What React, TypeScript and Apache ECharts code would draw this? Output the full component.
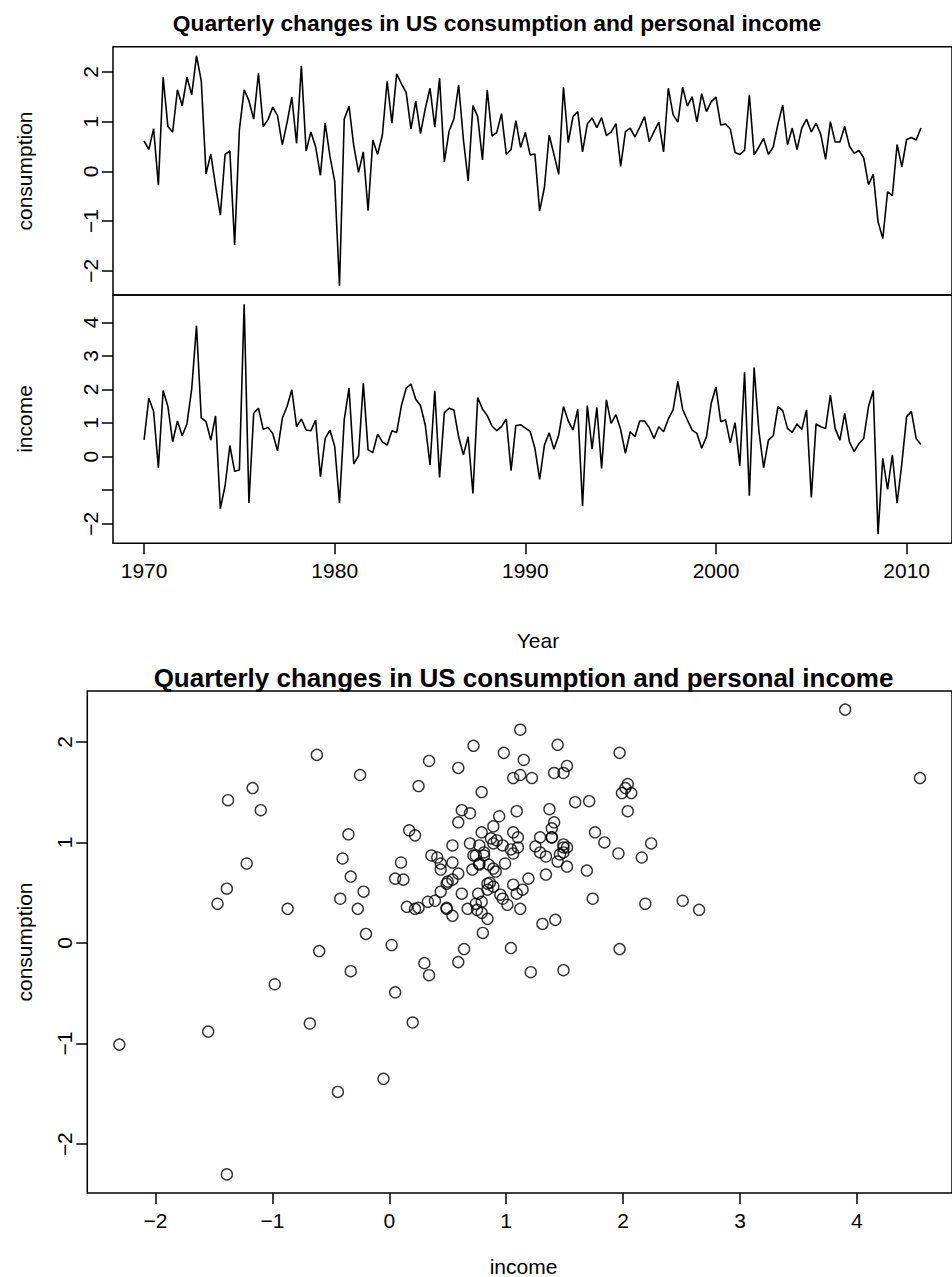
import React, { useEffect, useRef } from "react";
import * as echarts from "echarts";

// Quarterly % changes, 1970 Q1 – 2010 Q4
const startYear = 1970;
const perYear = 4;

const consumption = [
  0.61, 0.44, 0.86, -0.28, 1.89, 0.9, 0.79, 1.64, 1.32, 1.89, 1.54, 2.32, 1.82, -0.05, 0.35, -0.29, -0.88, 0.34, 0.41, -1.48,
  0.84, 1.64, 1.42, 1.05, 1.97, 0.9, 1.04, 1.29, 1.12, 0.53, 0.98, 1.49, 0.56, 2.12, 0.41, 0.79, 0.49, -0.08, 0.97, 0.3,
  -0.2, -2.3, 1.05, 1.31, 0.51, -0.02, 0.39, -0.79, 0.63, 0.34, 0.73, 1.81, 0.97, 1.96, 1.76, 1.58, 0.85, 1.41, 0.76, 1.26,
  1.67, 0.89, 1.87, 0.19, 0.81, 1.05, 1.74, 0.64, -0.19, 1.32, 1.1, 0.23, 1.64, 0.71, 0.78, 1.16, 0.34, 0.44, 1.02, 0.48,
  0.78, 0.33, 0.35, -0.8, -0.32, 0.73, 0.34, -0.06, 1.69, 0.58, 1.1, 1.2, 0.39, 0.95, 1.07, 0.88, 1.08, 0.72, 0.79, 0.96,
  0.1, 0.8, 0.87, 0.69, 0.89, 1.1, 0.6, 0.8, 0.99, 0.39, 1.67, 1.14, 0.99, 1.69, 1.31, 1.5, 0.99, 1.56, 1.2, 1.4,
  1.49, 0.93, 0.95, 0.85, 0.38, 0.34, 0.42, 1.54, 0.33, 0.49, 0.66, 0.34, 0.49, 0.95, 1.33, 0.53, 0.87, 0.44, 0.87, 1.05,
  0.79, 0.97, 0.74, 0.24, 1.0, 0.59, 0.59, 0.9, 0.51, 0.36, 0.42, 0.27, -0.27, -0.06, -1.01, -1.35, -0.41, -0.49, 0.54, 0.09,
  0.64, 0.68, 0.63, 0.87,
];

const income = [
  0.5, 1.74, 1.34, -0.33, 1.97, 1.49, 0.44, 1.06, 0.62, 0.98, 2.02, 3.9, 1.15, 1.04, 0.49, 1.21, -1.55, -0.87, 0.33, -0.44,
  -0.4, 4.54, -1.38, 1.29, 1.44, 0.81, 0.87, 0.69, 0.17, 1.14, 1.49, 1.99, 0.89, 1.12, 0.79, 0.77, 1.09, -0.6, 0.54, 0.79,
  0.3, -1.39, 1.1, 2.04, -0.22, 0.02, 2.19, 0.2, 0.12, 0.67, 0.44, 0.34, 0.77, 0.72, 1.52, 2.04, 2.16, 1.71, 1.52, 0.94,
  -0.25, 1.96, -0.62, 1.31, 1.44, 1.39, 0.59, 0.05, 0.59, -1.1, 1.76, 1.42, 1.22, 0.91, 0.77, 0.89, 1.12, -0.42, 0.92, 0.95,
  0.85, 0.75, 0.25, -0.68, 0.34, 0.71, 0.22, 0.64, 1.49, 1.06, 0.79, 1.41, -1.47, 1.52, 0.22, 1.46, -0.35, 1.69, 0.99, 1.25,
  0.8, 0.1, 0.74, 0.59, 1.06, 1.06, 0.86, 0.54, 0.89, 0.74, 1.12, 1.39, 2.24, 1.41, 1.09, 0.79, 0.69, 0.25, 0.59, 1.59,
  2.07, 1.04, 1.1, 0.41, 1.01, -0.27, 2.51, -1.17, 2.65, 0.76, -0.33, 0.49, 0.62, 1.49, 1.37, 0.84, 0.72, 0.97, 0.81, 1.39,
  -1.22, 0.97, 0.89, 0.84, 1.84, 0.84, 0.49, 1.29, 0.44, 0.15, 0.39, 0.54, 1.49, 1.97, -2.31, -0.05, -0.98, 0.05, -1.39, -0.2,
  1.19, 1.34, 0.54, 0.36,
];

const yearTicks = [1970, 1980, 1990, 2000, 2010];
const consTicks = [-2, -1, 0, 1, 2];
const incomeTicks = [-2, -1, 0, 1, 2, 3, 4];
const incomeTickLabels = [-2, 0, 1, 2, 3, 4];
const scatterXTicks = [-2, -1, 0, 1, 2, 3, 4];

const title = "Quarterly changes in US consumption and personal income";
const FONT = '"Liberation Sans", Arial, Helvetica, sans-serif';

const fmt = (v: number) => (v < 0 ? "\u2212" + Math.abs(v) : String(v));

export default function App() {
  const ref = useRef<HTMLDivElement>(null);

  useEffect(() => {
    if (!ref.current) return;
    const chart = echarts.init(ref.current, null, { renderer: "svg" });

    const years = consumption.map((_, i) => startYear + i / perYear);
    const consLine = consumption.map((v, i) => [years[i], v]);
    const incLine = income.map((v, i) => [years[i], v]);
    const pairs = income.map((v, i) => [v, consumption[i]]);

    const tickStyle = { color: "#000", width: 1.5 };
    const labelBase = { color: "#000", fontSize: 21, fontFamily: FONT };
    const hiddenLine = { show: false, onZero: false };
    const gridBase = {
      show: true,
      borderColor: "#000",
      borderWidth: 1.5,
      backgroundColor: "transparent",
      containLabel: false,
    };

    const option: any = {
      animation: false,
      backgroundColor: "#fff",
      textStyle: { fontFamily: FONT },
      grid: [
        { ...gridBase, left: 113, top: 46.7, width: 850, height: 248.3 },
        { ...gridBase, left: 113, top: 295, width: 850, height: 248.3 },
        { ...gridBase, left: 87.3, top: 691, width: 872.2, height: 502 },
      ],
      xAxis: [
        { gridIndex: 0, type: "value", min: 1968.37, max: 2012.38, show: false },
        {
          gridIndex: 1,
          type: "value",
          position: "bottom",
          min: 1968.37,
          max: 2012.38,
          axisLine: hiddenLine,
          splitLine: { show: false },
          axisTick: { show: true, length: 11, lineStyle: tickStyle, customValues: yearTicks },
          axisLabel: { ...labelBase, margin: 17, customValues: yearTicks, formatter: (v: number) => String(v) },
        },
        {
          gridIndex: 2,
          type: "value",
          position: "bottom",
          min: -2.584,
          max: 4.814,
          axisLine: hiddenLine,
          splitLine: { show: false },
          axisTick: { show: true, length: 11, lineStyle: tickStyle, customValues: scatterXTicks },
          axisLabel: { ...labelBase, margin: 17, customValues: scatterXTicks, formatter: fmt },
        },
      ],
      yAxis: [
        {
          gridIndex: 0,
          type: "value",
          position: "left",
          min: -2.485,
          max: 2.505,
          axisLine: hiddenLine,
          splitLine: { show: false },
          axisTick: { show: true, length: 11, lineStyle: tickStyle, customValues: consTicks },
          axisLabel: { ...labelBase, rotate: 90, margin: 12, customValues: consTicks, formatter: fmt },
        },
        {
          gridIndex: 1,
          type: "value",
          position: "left",
          min: -2.584,
          max: 4.814,
          axisLine: hiddenLine,
          splitLine: { show: false },
          axisTick: { show: true, length: 11, lineStyle: tickStyle, customValues: incomeTicks },
          axisLabel: { ...labelBase, rotate: 90, margin: 12, customValues: incomeTickLabels, formatter: fmt },
        },
        {
          gridIndex: 2,
          type: "value",
          position: "left",
          min: -2.485,
          max: 2.505,
          axisLine: hiddenLine,
          splitLine: { show: false },
          axisTick: { show: true, length: 11, lineStyle: tickStyle, customValues: consTicks },
          axisLabel: { ...labelBase, rotate: 90, margin: 12, customValues: consTicks, formatter: fmt },
        },
      ],
      series: [
        {
          type: "line",
          name: "consumption",
          xAxisIndex: 0,
          yAxisIndex: 0,
          data: consLine,
          showSymbol: false,
          symbol: "none",
          lineStyle: { color: "#000", width: 1.6 },
        },
        {
          type: "line",
          name: "income",
          xAxisIndex: 1,
          yAxisIndex: 1,
          data: incLine,
          showSymbol: false,
          symbol: "none",
          lineStyle: { color: "#000", width: 1.6 },
        },
        {
          type: "scatter",
          name: "scatter",
          xAxisIndex: 2,
          yAxisIndex: 2,
          data: pairs,
          symbol: "circle",
          symbolSize: 11,
          itemStyle: { color: "rgba(0,0,0,0)", borderColor: "#000", borderWidth: 1.4 },
        },
      ],
      graphic: [
        {
          type: "text",
          x: 497,
          y: 23,
          style: { text: title, fontSize: 22.8, fontWeight: "bold", fontFamily: FONT, fill: "#000", align: "center", verticalAlign: "middle" },
        },
        {
          type: "text",
          x: 538,
          y: 640,
          style: { text: "Year", fontSize: 21, fontFamily: FONT, fill: "#000", align: "center", verticalAlign: "middle" },
        },
        {
          type: "text",
          x: 24,
          y: 171,
          rotation: Math.PI / 2,
          style: { text: "consumption", fontSize: 21, fontFamily: FONT, fill: "#000", align: "center", verticalAlign: "middle" },
        },
        {
          type: "text",
          x: 24,
          y: 419,
          rotation: Math.PI / 2,
          style: { text: "income", fontSize: 21, fontFamily: FONT, fill: "#000", align: "center", verticalAlign: "middle" },
        },
        {
          type: "text",
          x: 523.5,
          y: 678,
          style: { text: title, fontSize: 26, fontWeight: "bold", fontFamily: FONT, fill: "#000", align: "center", verticalAlign: "middle" },
        },
        {
          type: "text",
          x: 24,
          y: 942,
          rotation: Math.PI / 2,
          style: { text: "consumption", fontSize: 21, fontFamily: FONT, fill: "#000", align: "center", verticalAlign: "middle" },
        },
        {
          type: "text",
          x: 523.5,
          y: 1266,
          style: { text: "income", fontSize: 21, fontFamily: FONT, fill: "#000", align: "center", verticalAlign: "middle" },
        },
      ],
    };

    chart.setOption(option);
    return () => chart.dispose();
  }, []);

  return (
    <div
      ref={ref}
      style={{ position: "absolute", left: 0, top: 0, width: 952, height: 1277, background: "#fff" }}
    />
  );
}
